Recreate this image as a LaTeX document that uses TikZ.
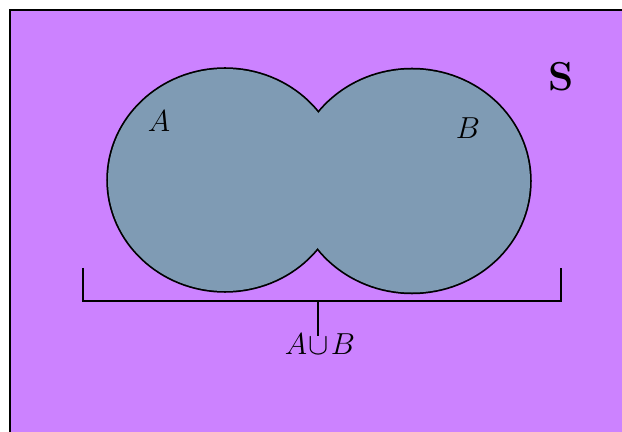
\documentclass[tikz,border=0pt]{standalone}
\usepackage{amsmath,amssymb}
\usepackage{xcolor}
\usepackage{tikz}
\usetikzlibrary{positioning,calc}
\definecolor{universe}{RGB}{204,130,255}
\definecolor{setfill}{RGB}{127,155,180}

\begin{document}
\begin{tikzpicture}[x=0.02cm,y=-0.02cm,font=\fontsize{16}{19}\selectfont,
  setline/.style={draw=black,line width=2pt},
  setbody/.style={fill=setfill,draw=none}]
\useasboundingbox (0,0) rectangle (622,432);
\clip (0,0) rectangle (622,432);
% universe
\draw[fill=universe,line width=1.1pt] (10,10) rectangle (650,460);
\node[font=\fontsize{23}{26}\selectfont\bfseries] (S) at (561,77) {S};
% sets A and B: outline first, then fill over the inner half
\draw[setline] (225,180) ellipse [x radius=117,y radius=111];
\draw[setline] (412,181) ellipse [x radius=118,y radius=111.5];
\fill[setbody] (225,180) ellipse [x radius=117,y radius=111];
\fill[setbody] (412,181) ellipse [x radius=118,y radius=111.5];
\node (A) at (159,121) {$A$};
\node (B) at (468,128) {$B$};
% bracket for the union
\coordinate (bl) at (83,268);
\coordinate (br) at (561,268);
\coordinate (bm) at (318,301);
\coordinate (bt) at (318,336);
\node (AuB) at (320,344) {$A\!\cup\! B$};
\draw[line width=0.9pt] (bl) |- (bm) -| (br);
\draw[line width=0.9pt] (bm) -- (bt);
\end{tikzpicture}
\end{document}
